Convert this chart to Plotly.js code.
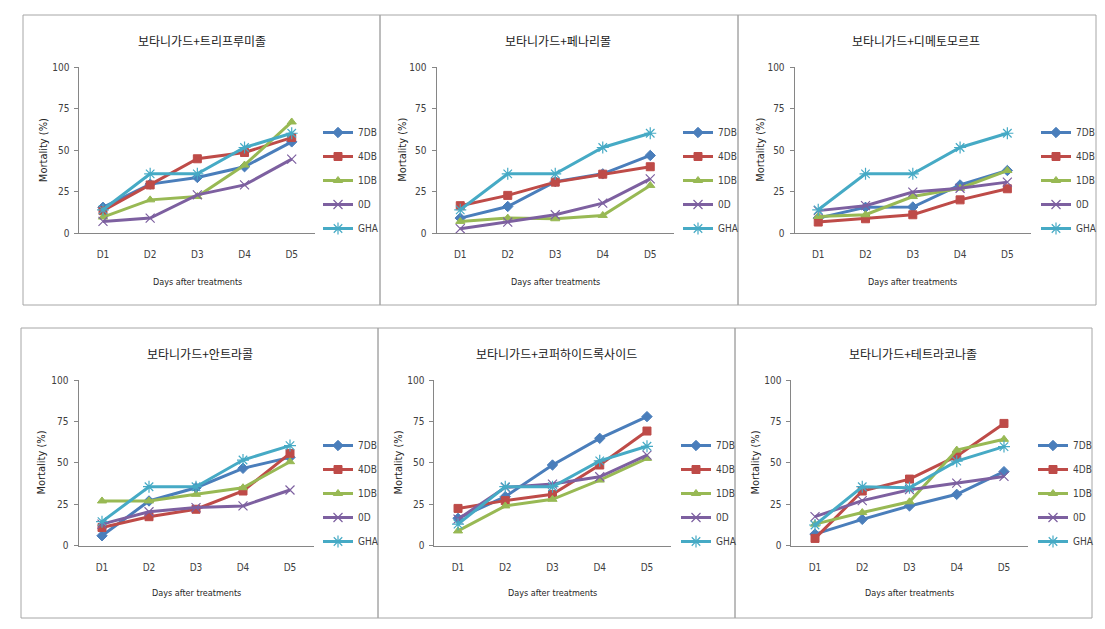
<!DOCTYPE html>
<html>
<head>
<meta charset="utf-8">
<script src="https://cdn.plot.ly/plotly-3.0.1.min.js"></script>
<style>
  html, body { margin: 0; padding: 0; background: #ffffff; }
  #chart { width: 1105px; height: 629px; }
</style>
</head>
<body>
<div id="chart"></div>
<script>
// ---------------- data ----------------
const days = ['D1', 'D2', 'D3', 'D4', 'D5'];
const seriesNames = ['7DB', '4DB', '1DB', '0D', 'GHA'];
const panelTitles = [
  '보타니가드+트리프루미졸',
  '보타니가드+페나리몰',
  '보타니가드+디메토모르프',
  '보타니가드+안트라콜',
  '보타니가드+코퍼하이드록사이드',
  '보타니가드+테트라코나졸'
];
const xAxisTitle = 'Days after treatments';
const yAxisTitle = 'Mortality (%)';
const yTicks = [0, 25, 50, 75, 100];

// Mortality (%) per panel; rows follow seriesNames: 7DB, 4DB, 1DB, 0D, GHA
const triflumizole = [
  [15.5, 29.5, 33.5, 40.0, 55.0],
  [13.5, 29.0, 44.8, 48.6, 57.6],
  [9.6, 20.0, 22.0, 41.0, 67.0],
  [7.0, 9.0, 23.0, 29.0, 44.6],
  [14.0, 35.7, 35.7, 51.6, 60.2]
];
const fenarimol = [
  [9.0, 16.0, 31.0, 35.7, 46.8],
  [16.5, 22.7, 30.7, 35.5, 40.0],
  [7.0, 9.0, 8.6, 10.6, 28.7],
  [2.6, 6.6, 11.0, 18.0, 32.7],
  [14.0, 35.7, 35.7, 51.6, 60.2]
];
const dimethomorph = [
  [9.0, 15.5, 15.7, 29.0, 37.7],
  [6.6, 8.6, 11.0, 20.0, 26.7],
  [10.0, 11.0, 22.0, 27.0, 37.7],
  [13.5, 16.5, 24.7, 27.0, 30.7],
  [14.0, 35.7, 35.7, 51.6, 60.2]
];
const antracol = [
  [6.0, 27.0, 35.0, 46.7, 53.3],
  [11.0, 17.5, 22.0, 33.0, 55.7],
  [27.0, 27.0, 31.0, 35.0, 50.7],
  [13.0, 20.5, 23.0, 24.0, 33.6],
  [14.5, 35.6, 35.6, 51.7, 60.4]
];
const copperHydroxide = [
  [16.5, 29.6, 48.7, 64.8, 77.9],
  [22.5, 27.2, 31.0, 48.7, 69.2],
  [8.9, 24.0, 28.0, 39.6, 52.7],
  [16.0, 35.2, 37.2, 41.6, 54.7],
  [13.0, 35.6, 35.6, 51.2, 60.0]
];
const tetraconazole = [
  [7.0, 15.9, 24.0, 31.0, 44.7],
  [4.4, 33.0, 40.2, 54.0, 73.8],
  [13.0, 20.0, 26.5, 57.7, 64.2],
  [17.5, 27.2, 33.8, 37.8, 41.8],
  [12.5, 35.6, 35.0, 51.0, 59.8]
];
const panelData = [triflumizole, fenarimol, dimethomorph, antracol, copperHydroxide, tetraconazole];

// ---------------- styling ----------------
const W = 1105, H = 629;
const colors = ['#4a7ebb', '#be4b48', '#98b954', '#7d60a0', '#46aac5'];
const symbols = ['diamond', 'square', 'triangle-up', 'x-thin-open', 'asterisk-open'];
const msizes = [8, 8, 8, 9, 10];
const latin = '"Liberation Sans Narrow", "DejaVu Sans Condensed", "Arial Narrow", sans-serif';
const korean = '"Noto Sans CJK KR", sans-serif';

// panel geometry in pixels
const geo = [
  {x0: 79.4, x1: 315.3, yTop: 67.3, yBot: 233, tx: 201.7, ty: 40, xty: 282, ytx: 43, lx: 318, ly: 118,
   frame: [23, 15, 380, 305]},
  {x0: 436.5, x1: 674, yTop: 67.3, yBot: 233, tx: 558, ty: 40, xty: 282, ytx: 401.7, lx: 678, ly: 118,
   frame: [380, 15, 738, 305]},
  {x0: 794.6, x1: 1031, yTop: 67.3, yBot: 233, tx: 916, ty: 40, xty: 282, ytx: 759.7, lx: 1036, ly: 118,
   frame: [738, 15, 1096, 305]},
  {x0: 78.5, x1: 313.5, yTop: 380, yBot: 545.7, tx: 200, ty: 353, xty: 593, ytx: 41.7, lx: 318, ly: 431,
   frame: [21, 328, 378, 618]},
  {x0: 434.4, x1: 670.6, yTop: 380, yBot: 545.7, tx: 556, ty: 353, xty: 593, ytx: 398.7, lx: 676, ly: 431,
   frame: [378, 328, 735, 618]},
  {x0: 791.4, x1: 1027.6, yTop: 380, yBot: 545.7, tx: 913, ty: 353, xty: 593, ytx: 755.7, lx: 1033, ly: 431,
   frame: [735, 328, 1092, 618]}
];
const px = v => v / W;
const py = v => 1 - v / H;

const traces = [];
const layout = {
  width: W, height: H,
  margin: {l: 0, r: 0, t: 0, b: 0},
  paper_bgcolor: '#ffffff', plot_bgcolor: '#ffffff',
  font: {family: latin, size: 10, color: '#404040'},
  annotations: [], shapes: []
};

panelData.forEach((rows, p) => {
  const g = geo[p];
  const n = p + 1;
  const xa = n === 1 ? 'x' : 'x' + n;
  const ya = n === 1 ? 'y' : 'y' + n;
  const lg = n === 1 ? 'legend' : 'legend' + n;

  rows.forEach((vals, s) => {
    traces.push({
      type: 'scatter', mode: 'lines+markers',
      x: days, y: vals, name: seriesNames[s],
      xaxis: xa, yaxis: ya, legend: lg,
      legendgroup: 'p' + n + 's' + s,
      line: {color: colors[s], width: 3},
      marker: {symbol: symbols[s], size: msizes[s], color: colors[s],
               line: {color: colors[s], width: s >= 3 ? 1.2 : 1}},
      hoverinfo: 'x+y+name'
    });
  });

  layout[(n === 1 ? 'xaxis' : 'xaxis' + n)] = {
    domain: [px(g.x0), px(g.x1)], anchor: ya,
    type: 'category', range: [-0.5, 4.5],
    showline: true, linecolor: '#868686', linewidth: 1,
    showgrid: false, zeroline: false, ticks: '',
    ticklabelstandoff: 12,
    tickfont: {family: latin, size: 10, color: '#404040'}
  };
  layout[(n === 1 ? 'yaxis' : 'yaxis' + n)] = {
    domain: [py(g.yBot), py(g.yTop)], anchor: xa,
    range: [0, 100], tickvals: yTicks,
    showline: true, linecolor: '#868686', linewidth: 1,
    showgrid: false, zeroline: false,
    ticks: 'outside', ticklen: 4, tickcolor: '#868686',
    ticklabelstandoff: 3,
    tickfont: {family: latin, size: 10, color: '#404040'}
  };
  layout[lg] = {
    x: px(g.lx), y: py(g.ly), xanchor: 'left', yanchor: 'top',
    xref: 'paper', yref: 'paper',
    traceorder: 'grouped', tracegroupgap: 5,
    itemwidth: 30, bgcolor: 'rgba(0,0,0,0)', borderwidth: 0,
    font: {family: latin, size: 10, color: '#404040'}
  };

  // panel title
  layout.annotations.push({
    text: panelTitles[p], xref: 'paper', yref: 'paper',
    x: px(g.tx), y: py(g.ty), xanchor: 'center', yanchor: 'middle',
    showarrow: false, font: {family: korean, size: 12, color: '#1a1a1a'}
  });
  // x axis title
  layout.annotations.push({
    text: xAxisTitle, xref: 'paper', yref: 'paper',
    x: px((g.x0 + g.x1) / 2), y: py(g.xty), xanchor: 'center', yanchor: 'middle',
    showarrow: false, font: {family: latin, size: 9, color: '#262626'}
  });
  // y axis title
  layout.annotations.push({
    text: yAxisTitle, xref: 'paper', yref: 'paper', textangle: -90,
    x: px(g.ytx), y: py((g.yTop + g.yBot) / 2), xanchor: 'center', yanchor: 'middle',
    showarrow: false, font: {family: latin, size: 11, color: '#262626'}
  });
  // panel frame
  const f = g.frame;
  layout.shapes.push({
    type: 'rect', xref: 'paper', yref: 'paper',
    x0: px(f[0]), x1: px(f[2]), y0: py(f[3]), y1: py(f[1]),
    line: {color: '#a6a6a6', width: 1}, fillcolor: 'rgba(0,0,0,0)', layer: 'below'
  });
});

Plotly.newPlot('chart', traces, layout, {displayModeBar: false, responsive: false});
</script>
</body>
</html>
